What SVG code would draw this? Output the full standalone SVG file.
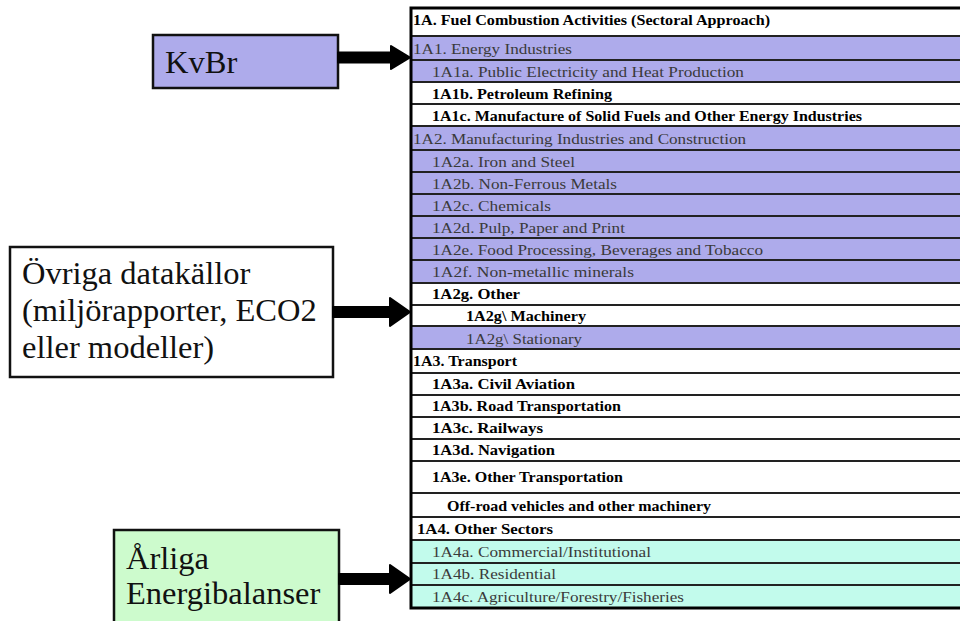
<svg xmlns="http://www.w3.org/2000/svg" width="960" height="621" viewBox="0 0 960 621">
<style>
.p{fill:#aeabeb}.w{fill:#ffffff}.c{fill:#c2fbec}
.row{stroke:#222;stroke-width:2}
.r{font-size:15px;fill:#3a3a3a}
.b{font-size:14.5px;font-weight:bold;fill:#000}
.big{font-size:32.5px;fill:#111}
.box{stroke:#111;stroke-width:2.5}
.arr{fill:#000;stroke:#000;stroke-width:2;stroke-linejoin:round}
</style>
<rect width="960" height="621" fill="#fff"/>
<g id="table" font-family="Liberation Serif">
<rect class="w row" x="411" y="8" width="560" height="28"/>
<rect class="p row" x="411" y="36" width="560" height="24"/>
<rect class="p row" x="411" y="60" width="560" height="22"/>
<rect class="w row" x="411" y="82" width="560" height="22"/>
<rect class="w row" x="411" y="104" width="560" height="22"/>
<rect class="p row" x="411" y="126" width="560" height="24"/>
<rect class="p row" x="411" y="150" width="560" height="22"/>
<rect class="p row" x="411" y="172" width="560" height="22"/>
<rect class="p row" x="411" y="194" width="560" height="22"/>
<rect class="p row" x="411" y="216" width="560" height="22"/>
<rect class="p row" x="411" y="238" width="560" height="22"/>
<rect class="p row" x="411" y="260" width="560" height="23"/>
<rect class="w row" x="411" y="283" width="560" height="22"/>
<rect class="w row" x="411" y="305" width="560" height="21"/>
<rect class="p row" x="411" y="326" width="560" height="23"/>
<rect class="w row" x="411" y="349" width="560" height="24"/>
<rect class="w row" x="411" y="373" width="560" height="22"/>
<rect class="w row" x="411" y="395" width="560" height="22"/>
<rect class="w row" x="411" y="417" width="560" height="22"/>
<rect class="w row" x="411" y="439" width="560" height="22"/>
<rect class="w row" x="411" y="461" width="560" height="32"/>
<rect class="w row" x="411" y="493" width="560" height="24"/>
<rect class="w row" x="411" y="517" width="560" height="23"/>
<rect class="c row" x="411" y="540" width="560" height="23"/>
<rect class="c row" x="411" y="563" width="560" height="22"/>
<rect class="c row" x="411" y="585" width="560" height="23"/>
<rect x="411" y="8" width="560" height="600" fill="none" stroke="#000" stroke-width="3"/>
<text class="b" font-family="Liberation Serif" x="413" y="25" textLength="357" lengthAdjust="spacingAndGlyphs">1A. Fuel Combustion Activities (Sectoral Approach)</text>
<text class="r" font-family="Liberation Serif" x="413" y="54" textLength="159" lengthAdjust="spacingAndGlyphs">1A1. Energy Industries</text>
<text class="r" font-family="Liberation Serif" x="432" y="77" textLength="312" lengthAdjust="spacingAndGlyphs">1A1a.  Public Electricity  and Heat Production</text>
<text class="b" font-family="Liberation Serif" x="432" y="99" textLength="180" lengthAdjust="spacingAndGlyphs">1A1b.  Petroleum Refining</text>
<text class="b" font-family="Liberation Serif" x="432" y="121" textLength="430" lengthAdjust="spacingAndGlyphs">1A1c.  Manufacture of Solid Fuels and Other Energy Industries</text>
<text class="r" font-family="Liberation Serif" x="413" y="144" textLength="333" lengthAdjust="spacingAndGlyphs">1A2. Manufacturing Industries and Construction</text>
<text class="r" font-family="Liberation Serif" x="432" y="167" textLength="143" lengthAdjust="spacingAndGlyphs">1A2a.  Iron and Steel</text>
<text class="r" font-family="Liberation Serif" x="432" y="189" textLength="185" lengthAdjust="spacingAndGlyphs">1A2b.  Non-Ferrous Metals</text>
<text class="r" font-family="Liberation Serif" x="432" y="211" textLength="119" lengthAdjust="spacingAndGlyphs">1A2c.  Chemicals</text>
<text class="r" font-family="Liberation Serif" x="432" y="233" textLength="193" lengthAdjust="spacingAndGlyphs">1A2d.  Pulp, Paper and Print</text>
<text class="r" font-family="Liberation Serif" x="432" y="255" textLength="331" lengthAdjust="spacingAndGlyphs">1A2e.  Food Processing, Beverages and Tobacco</text>
<text class="r" font-family="Liberation Serif" x="432" y="277" textLength="202" lengthAdjust="spacingAndGlyphs">1A2f.   Non-metallic minerals</text>
<text class="b" font-family="Liberation Serif" x="432" y="299" textLength="88" lengthAdjust="spacingAndGlyphs">1A2g.  Other</text>
<text class="b" font-family="Liberation Serif" x="466" y="321" textLength="120" lengthAdjust="spacingAndGlyphs">1A2g\ Machinery</text>
<text class="r" font-family="Liberation Serif" x="466" y="344" textLength="116" lengthAdjust="spacingAndGlyphs">1A2g\ Stationary</text>
<text class="b" font-family="Liberation Serif" x="413" y="366" textLength="104" lengthAdjust="spacingAndGlyphs">1A3. Transport</text>
<text class="b" font-family="Liberation Serif" x="432" y="389" textLength="143" lengthAdjust="spacingAndGlyphs">1A3a.  Civil Aviation</text>
<text class="b" font-family="Liberation Serif" x="432" y="411" textLength="189" lengthAdjust="spacingAndGlyphs">1A3b.  Road Transportation</text>
<text class="b" font-family="Liberation Serif" x="432" y="433" textLength="111" lengthAdjust="spacingAndGlyphs">1A3c.  Railways</text>
<text class="b" font-family="Liberation Serif" x="432" y="455" textLength="123" lengthAdjust="spacingAndGlyphs">1A3d.  Navigation</text>
<text class="b" font-family="Liberation Serif" x="432" y="482" textLength="191" lengthAdjust="spacingAndGlyphs">1A3e.  Other Transportation</text>
<text class="b" font-family="Liberation Serif" x="447" y="511" textLength="264" lengthAdjust="spacingAndGlyphs">Off-road vehicles  and other machinery</text>
<text class="b" font-family="Liberation Serif" x="417" y="534" textLength="136" lengthAdjust="spacingAndGlyphs">1A4. Other Sectors</text>
<text class="r" font-family="Liberation Serif" x="432" y="557" textLength="219" lengthAdjust="spacingAndGlyphs">1A4a.  Commercial/Institutional</text>
<text class="r" font-family="Liberation Serif" x="432" y="579" textLength="124" lengthAdjust="spacingAndGlyphs">1A4b.  Residential</text>
<text class="r" font-family="Liberation Serif" x="432" y="602" textLength="252" lengthAdjust="spacingAndGlyphs">1A4c.  Agriculture/Forestry/Fisheries</text>
</g>
<g id="kvbr">
<rect class="box" x="153" y="35" width="185" height="53" fill="#aeabeb"/>
<text class="big" font-family="Liberation Serif" x="165" y="73">KvBr</text>
</g>
<g id="ovriga">
<rect class="box" x="10" y="247" width="323" height="130" fill="#fff"/>
<text class="big" font-family="Liberation Serif" x="22" y="284">Övriga datakällor</text>
<text class="big" font-family="Liberation Serif" x="22" y="321">(miljörapporter, ECO2</text>
<text class="big" font-family="Liberation Serif" x="22" y="358">eller modeller)</text>
</g>
<g id="arliga">
<rect class="box" x="114" y="530" width="225" height="100" fill="#cdfbcd"/>
<text class="big" font-family="Liberation Serif" x="126" y="569">Årliga</text>
<text class="big" font-family="Liberation Serif" x="126" y="604">Energibalanser</text>
</g>
<g id="connectors">
<path class="arr" d="M338,52.5 L391,52.5 L391,46 L410,57.5 L391,69 L391,62.5 L338,62.5 Z"/>
<path class="arr" d="M333,307 L390,307 L390,298 L410,312 L390,326 L390,317 L333,317 Z"/>
<path class="arr" d="M339,574 L390,574 L390,565 L410,579 L390,593 L390,584 L339,584 Z"/>
</g>
</svg>
